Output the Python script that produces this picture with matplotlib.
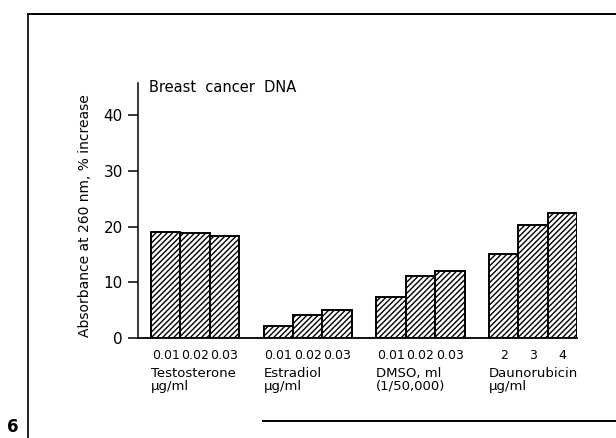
import matplotlib
matplotlib.use("Agg")
import matplotlib.pyplot as plt
from matplotlib.lines import Line2D

# data
groups = ["Testosterone\nµg/ml", "Estradiol\nµg/ml", "DMSO, ml\n(1/50,000)", "Daunorubicin\nµg/ml"]
doses = [
    ["0.01", "0.02", "0.03"],
    ["0.01", "0.02", "0.03"],
    ["0.01", "0.02", "0.03"],
    ["2", "3", "4"],
]
testosterone = [19.1, 18.9, 18.4]
estradiol = [2.1, 4.1, 5.0]
dmso = [7.4, 11.1, 12.1]
daunorubicin = [15.0, 20.3, 22.5]
values = [testosterone, estradiol, dmso, daunorubicin]

plt.rcParams["font.family"] = ["DejaVu Sans"]
plt.rcParams["hatch.linewidth"] = 1.0

fig = plt.figure(figsize=(6.16, 4.38), dpi=100)
ax = fig.add_axes([0.224, 0.228, 0.713, 0.582])

group_gap = 3.83
xpos, xlabels = [], []
for g, vals in enumerate(values):
    start = g * group_gap
    pos = [start + 0.5 + j for j in range(len(vals))]
    ax.bar(pos, vals, width=1.0, color="white", edgecolor="black",
           linewidth=1.4, hatch="//////")
    xpos += pos
    xlabels += doses[g]
    ax.text(start, -0.115, groups[g], transform=ax.get_xaxis_transform(),
            ha="left", va="top", fontsize=9.5, linespacing=0.95)

ax.set_xticks(xpos)
ax.set_xticklabels(xlabels, fontsize=9)
ax.tick_params(axis="x", length=0, pad=8)
ax.set_xlim(-0.44, 3 * group_gap + 3)
ax.set_ylim(0, 45.7)
ax.set_yticks([0, 10, 20, 30, 40])
ax.tick_params(axis="y", direction="out", length=7, width=1.1, labelsize=11, pad=4)

for s in ["top", "right"]:
    ax.spines[s].set_visible(False)
ax.spines["left"].set_linewidth(1.1)
ax.spines["bottom"].set_linewidth(1.3)

ax.set_ylabel("Absorbance at 260 nm, % increase", fontsize=10, labelpad=8)
ax.yaxis.label.set_y(0.48)
ax.text(0.025, 0.985, "Breast  cancer  DNA", transform=ax.transAxes,
        ha="left", va="center", fontsize=10.5)

# scanned page frame
fig.add_artist(Line2D([0.045, 1.0], [0.968, 0.968], color="black", lw=1.4))
fig.add_artist(Line2D([0.045, 0.045], [0.968, 0.0], color="black", lw=1.2))
fig.add_artist(Line2D([0.427, 1.0], [0.039, 0.039], color="black", lw=1.4))
fig.text(0.012, 0.004, "6", fontsize=12, fontweight="bold", va="bottom")

fig.savefig("out.png", dpi=100)
